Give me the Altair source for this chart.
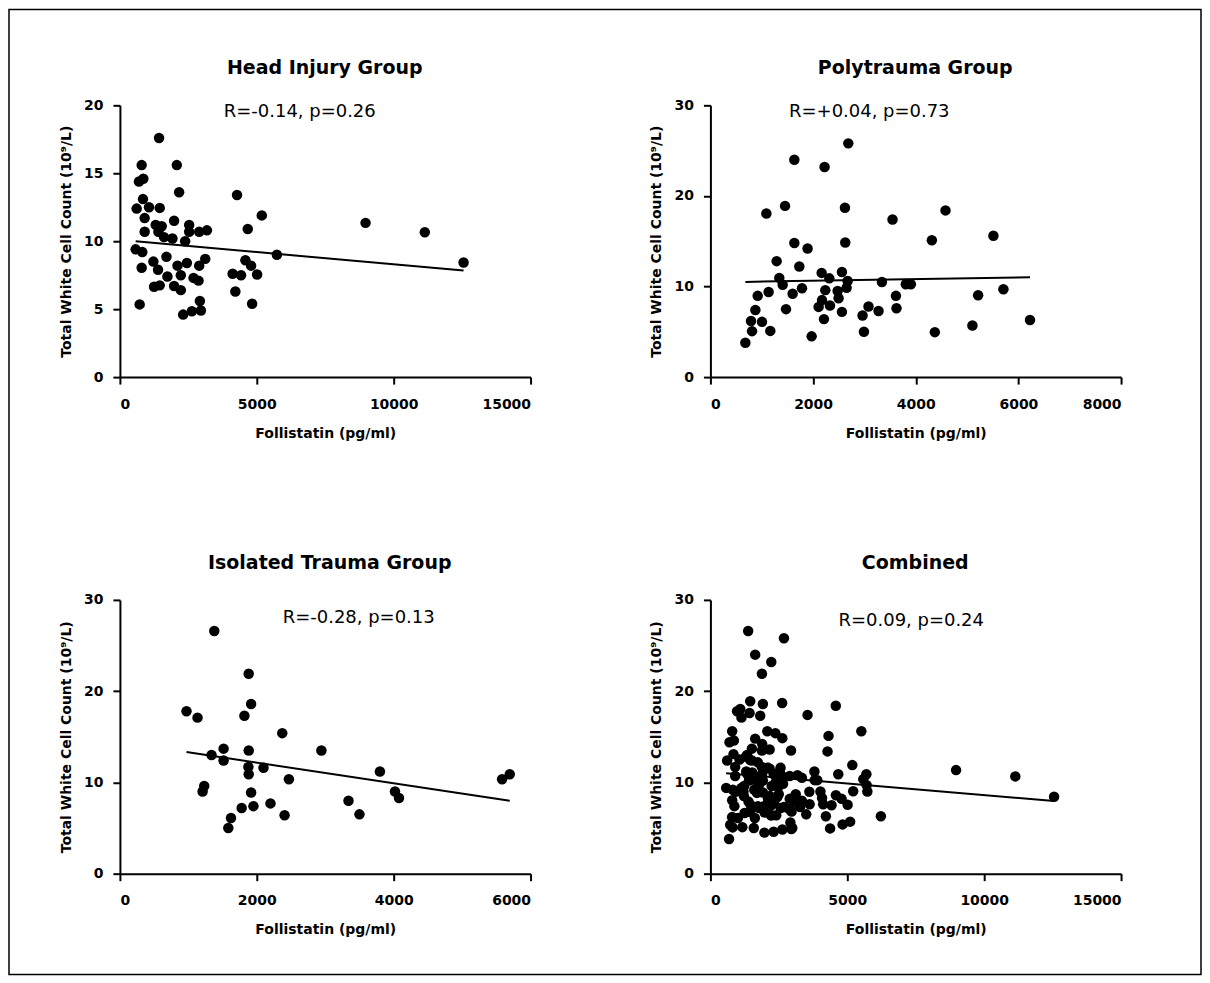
import altair as alt
import pandas as pd

# ---------------- data ----------------
head_x = [1430, 795, 2078, 697, 856, 2163, 4278, 843, 612, 1063, 1455, 904, 5183, 1980,
          1308, 1528, 2530, 4670, 904, 1406, 1613, 1918, 2530, 2897, 3180, 2383, 575, 819,
          5733, 1700, 1223, 2103, 2445, 3117, 2897, 4584, 4792, 5012, 795, 1393, 1735, 2225,
          2689, 2872, 4118, 4425, 1247, 1455, 1980, 2225, 4217, 722, 4829, 2921, 2958, 2628,
          2310, 8973, 11137, 12553]
head_y = [17.6, 15.6, 15.6, 14.4, 14.6, 13.6, 13.4, 13.1, 12.4, 12.5, 12.45, 11.7, 11.9, 11.5,
          11.2, 11.1, 11.2, 10.9, 10.7, 10.7, 10.3, 10.2, 10.7, 10.7, 10.8, 10.0, 9.4, 9.2,
          9.0, 8.85, 8.5, 8.2, 8.4, 8.7, 8.2, 8.6, 8.2, 7.55, 8.05, 7.9, 7.4, 7.5,
          7.3, 7.1, 7.6, 7.5, 6.65, 6.75, 6.7, 6.4, 6.3, 5.35, 5.4, 5.6, 4.9, 4.85,
          4.6, 11.35, 10.66, 8.43]

poly_x = [2686, 1635, 2224, 1090, 1454, 2621, 3548, 4580, 1635, 1893, 2627, 4314, 1290, 1732,
          1342, 1408, 2167, 2316, 2562, 2673, 3341, 3807, 3905, 921, 1134, 1602, 1784, 2238,
          2174, 2108, 2329, 2497, 2653, 2478, 876, 1473, 2212, 2562, 2964, 3080, 3275, 3614,
          3625, 791, 1005, 811, 1167, 681, 1972, 2991, 4372, 5513, 5215, 5708, 5104, 6226]
poly_y = [25.8, 24.0, 23.2, 18.05, 18.9, 18.7, 17.4, 18.4, 14.8, 14.2, 14.85, 15.1, 12.8, 12.2,
          10.95, 10.2, 11.5, 10.9, 11.6, 10.6, 10.5, 10.25, 10.25, 8.97, 9.4, 9.2, 9.8, 9.6,
          8.5, 7.75, 7.9, 8.7, 9.85, 9.5, 7.4, 7.5, 6.4, 7.2, 6.8, 7.8, 7.3, 8.97,
          7.6, 6.2, 6.1, 5.07, 5.1, 3.8, 4.5, 5.0, 4.96, 15.6, 9.04, 9.7, 5.7, 6.3]

iso_x = [1379, 1882, 1917, 973, 1134, 1819, 2372, 1515, 1339, 1882, 2944, 1515, 1877, 1882,
         2098, 2469, 1232, 1208, 1917, 3340, 3500, 1779, 1951, 2200, 2406, 1623, 1584, 3799,
         4019, 4078, 5584, 5696]
iso_y = [26.6, 21.9, 18.6, 17.8, 17.1, 17.3, 15.4, 13.7, 13.0, 13.5, 13.5, 12.4, 11.7, 10.9,
         11.6, 10.35, 9.6, 9.0, 8.9, 8.0, 6.5, 7.2, 7.4, 7.7, 6.4, 6.1, 5.0, 11.2,
         9.0, 8.3, 10.35, 10.9]

titles = ["Head Injury Group", "Polytrauma Group", "Isolated Trauma Group", "Combined"]
stats = ["R=-0.14, p=0.26", "R=+0.04, p=0.73", "R=-0.28, p=0.13", "R=0.09, p=0.24"]
x_max = [15000, 8000, 6000, 15000]
x_ticks = [[0, 5000, 10000, 15000], [0, 2000, 4000, 6000, 8000],
           [0, 2000, 4000, 6000], [0, 5000, 10000, 15000]]
y_max = [20, 30, 30, 30]
y_ticks = [[0, 5, 10, 15, 20], [0, 10, 20, 30], [0, 10, 20, 30], [0, 10, 20, 30]]
x_title = "Follistatin (pg/ml)"
y_title = "Total White Cell Count (10\u2079/L)"

FONT = "DejaVu Sans"

head = pd.DataFrame({"follistatin": head_x, "wcc": head_y})
poly = pd.DataFrame({"follistatin": poly_x, "wcc": poly_y})
iso = pd.DataFrame({"follistatin": iso_x, "wcc": iso_y})
combined = pd.concat([head, poly, iso], ignore_index=True)
frames = [head, poly, iso, combined]

# layout (pixel styling)
W = 411
H = [272, 272, 274, 274]
stat_xy = [(180, 12), (159, 12), (239, 23), (201, 26)]
title_xy = [(205, -31), (205, -31), (210, -31), (205, -31)]


def panel(i, with_frame=False):
    df = frames[i]
    xs = alt.Scale(domain=[0, x_max[i]], nice=False, zero=True)
    ys = alt.Scale(domain=[0, y_max[i]], nice=False, zero=True)
    xenc = alt.X("follistatin:Q", scale=xs,
                 axis=alt.Axis(values=x_ticks[i], title=x_title, format="d"))
    yenc = alt.Y("wcc:Q", scale=ys,
                 axis=alt.Axis(values=y_ticks[i], title=y_title, format="d"))
    base = alt.Chart(df)
    pts = base.mark_circle(size=110, color="black", opacity=1).encode(x=xenc, y=yenc)
    line = base.transform_regression("follistatin", "wcc").mark_line(
        color="black", strokeWidth=2).encode(x="follistatin:Q", y="wcc:Q")
    ttl = alt.Chart(pd.DataFrame({"t": [titles[i]]})).mark_text(
        font=FONT, fontSize=19, fontWeight="bold", color="black",
        align="center", baseline="alphabetic").encode(
        x=alt.value(title_xy[i][0]), y=alt.value(title_xy[i][1]), text="t:N")
    st = alt.Chart(pd.DataFrame({"t": [stats[i]]})).mark_text(
        font=FONT, fontSize=18, color="black",
        align="center", baseline="alphabetic").encode(
        x=alt.value(stat_xy[i][0]), y=alt.value(stat_xy[i][1]), text="t:N")
    layers = [pts, line, ttl, st]
    if with_frame:
        fr = alt.Chart(pd.DataFrame({"f": [0]})).mark_rect(
            fillOpacity=0, stroke="black", strokeWidth=1.5, clip=False).encode(
            x=alt.value(-111), x2=alt.value(1082), y=alt.value(-96), y2=alt.value(870))
        layers.append(fr)
    return alt.layer(*layers).properties(width=W, height=H[i])


chart = alt.concat(
    panel(0, with_frame=True), panel(1), panel(2), panel(3),
    columns=2, bounds="flush", spacing={"row": 223, "column": 180},
).properties(
    padding={"left": 0, "top": 0, "right": 0, "bottom": 0},
    background="white",
).configure_view(stroke=None).configure_axis(
    grid=False,
    domainColor="black", domainWidth=2,
    tickColor="black", tickWidth=2, tickSize=7,
    labelColor="black", labelFont=FONT, labelFontSize=14, labelFontWeight="bold",
    titleColor="black", titleFont=FONT, titleFontSize=14, titleFontWeight="bold",
).configure_axisX(
    labelPadding=13, titlePadding=15,
).configure_axisY(
    labelPadding=10, titlePadding=10,
)

chart.save("out.html", embed_options={"renderer": "svg", "actions": False})
